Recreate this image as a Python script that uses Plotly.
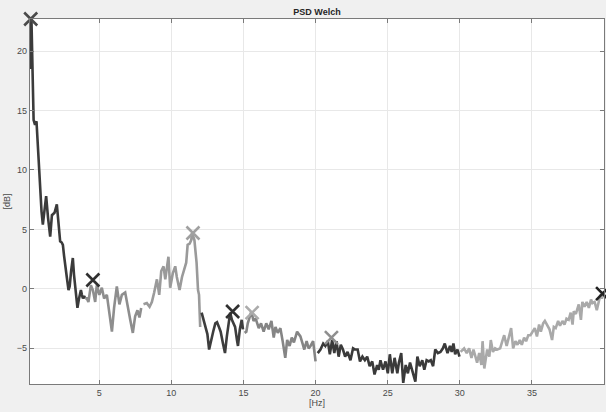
import plotly.graph_objects as go

# ---- data ----
f1 = [0.2, 0.3, 0.45, 0.55, 0.65, 0.72, 0.85, 1.0, 1.09, 1.2, 1.32, 1.45, 1.6, 1.72, 1.9, 2.06,
      2.15, 2.29, 2.4, 2.48, 2.56, 2.64, 2.75, 2.87, 2.95, 3.05, 3.17, 3.25, 3.33, 3.42, 3.49,
      3.6, 3.73, 3.8, 3.87, 3.95, 4.03]
p1 = [18.5, 22.7, 14.2, 13.8, 14.1, 12.5, 9.2, 6.5, 5.4, 6.8, 7.8, 6.0, 4.4, 6.2, 6.4, 7.1,
      6.0, 4.0, 3.9, 3.7, 2.8, 2.2, 1.0, -0.1, 0.2, 1.5, 2.6, 1.2, 0.1, -1.0, -1.6,
      -0.8, -0.1, -0.5, -0.8, -0.6, -0.8]

f2 = [4.03, 4.14, 4.25, 4.42, 4.56, 4.72, 4.83, 5.01, 5.18, 5.34, 5.53, 5.64, 5.76, 5.88, 6.03,
      6.22, 6.4, 6.57, 6.8, 6.96, 7.15, 7.33, 7.49, 7.65, 7.79, 7.91]
p2 = [-0.8, -0.8, -1.1, 0.3, -0.1, -1.1, 0.3, -0.5, 0.1, -0.8, -0.5, -1.5, -2.4, -3.6, -1.6,
      0.2, -1.3, -0.5, -0.3, -1.5, -2.6, -3.7, -2.3, -1.8, -2.4, -1.6]

f3 = [8.07, 8.3, 8.49, 8.65, 8.81, 9.0, 9.16, 9.3, 9.46, 9.58, 9.8, 9.92, 10.1, 10.27, 10.38,
      10.57, 10.74, 10.9, 11.03, 11.13, 11.27, 11.38, 11.44, 11.6, 11.75, 11.85, 11.92, 12.0]
p3 = [-1.3, -1.2, -1.5, -1.1, -0.3, 0.8, -0.5, 1.5, 1.9, 0.8, 2.7, 0.1, 1.3, 1.9, 1.0,
      -0.1, 1.0, 1.6, 2.2, 3.7, 3.8, 4.1, 4.7, 4.1, 2.2, -0.1, -0.5, -3.2]

f4 = [12.1, 12.22, 12.35, 12.5, 12.62, 12.75, 12.9, 13.05, 13.17, 13.3, 13.42, 13.58, 13.72,
      13.85, 13.95, 14.08, 14.2, 14.3, 14.42, 14.55, 14.62, 14.75, 14.88, 14.97]
p4 = [-2.0, -2.5, -3.0, -3.8, -5.1, -4.3, -3.6, -2.9, -2.8, -3.2, -3.6, -4.6, -5.4,
      -4.0, -3.0, -2.0, -2.6, -2.9, -3.2, -4.3, -4.8, -3.4, -2.6, -3.4]

f5 = [15.08, 15.2, 15.3, 15.43, 15.55, 15.7, 15.85, 16.06, 16.22, 16.4, 16.58, 16.75, 16.94,
      17.1, 17.22, 17.38, 17.56, 17.72, 17.9, 18.03, 18.2, 18.35, 18.5, 18.72, 18.95, 19.1,
      19.22, 19.38, 19.52, 19.65, 19.83, 20.0]
p5 = [-3.7, -3.6, -2.9, -2.3, -1.9, -2.7, -2.5, -3.3, -2.9, -3.6, -2.9, -3.4, -2.7,
      -4.1, -3.2, -3.7, -3.3, -4.4, -5.8, -4.3, -4.8, -4.1, -4.5, -3.6, -4.0, -4.6,
      -5.1, -4.4, -5.0, -4.8, -4.4, -6.1]

f6 = [20.15, 20.34, 20.53, 20.68, 20.85, 20.99, 21.15, 21.3, 21.45, 21.6, 21.75, 21.9, 22.05,
      22.22, 22.42, 22.6, 22.75, 22.92, 23.08, 23.25, 23.42, 23.58, 23.75, 23.93, 24.09, 24.27,
      24.38, 24.5, 24.68, 24.85, 25.01, 25.15, 25.32, 25.48, 25.67, 25.78, 25.94, 26.08, 26.25,
      26.4, 26.55, 26.76, 26.92, 27.06, 27.22, 27.4, 27.54, 27.7, 27.85, 27.99, 28.15, 28.3,
      28.48, 28.66, 28.83, 28.96, 29.15, 29.32, 29.44, 29.56, 29.68, 29.84, 29.98]
p6 = [-5.4, -5.1, -4.6, -4.8, -4.4, -5.5, -4.3, -5.4, -4.4, -5.7, -4.7, -5.1, -5.7,
      -5.3, -6.0, -5.0, -5.1, -5.1, -6.1, -5.7, -6.0, -5.7, -6.5, -6.1, -7.2, -6.4,
      -6.8, -6.0, -6.8, -6.1, -7.1, -5.5, -7.1, -5.8, -7.1, -6.2, -5.4, -7.9, -6.4,
      -7.1, -6.2, -7.2, -7.8, -5.7, -6.5, -6.0, -6.8, -6.0, -6.1, -6.0, -6.5, -5.1,
      -5.4, -5.3, -5.0, -4.6, -5.4, -4.8, -5.3, -4.6, -5.5, -5.1, -5.7]

f7 = [30.06, 30.3, 30.48, 30.65, 30.81, 30.95, 31.2, 31.35, 31.5, 31.58, 31.7, 31.9, 32.05,
      32.15, 32.3, 32.45, 32.6, 32.8, 32.95, 33.08, 33.25, 33.4, 33.56, 33.7, 33.86, 34.0,
      34.16, 34.3, 34.46, 34.6, 34.75, 34.9, 35.08, 35.2, 35.35, 35.5, 35.62, 35.78, 35.9,
      36.06, 36.22, 36.4, 36.52, 36.65, 36.82, 36.95, 37.12, 37.26, 37.4, 37.55, 37.69,
      37.82, 37.9, 38.05, 38.25, 38.4, 38.5, 38.65, 38.8, 38.95, 39.1, 39.2, 39.35, 39.5,
      39.65, 39.75, 39.85, 40.0]
p7 = [-5.3, -5.0, -5.4, -5.0, -5.8, -5.1, -6.2, -5.4, -6.4, -4.4, -6.7, -5.1, -5.7,
      -4.3, -5.3, -5.0, -5.1, -5.0, -4.4, -3.9, -4.8, -4.1, -3.3, -5.0, -4.4, -4.7,
      -4.3, -4.7, -4.1, -4.4, -3.9, -3.9, -3.6, -3.3, -4.0, -3.0, -3.6, -2.9, -2.7,
      -3.0, -3.4, -4.3, -3.2, -3.3, -2.7, -3.1, -2.7, -3.0, -2.5, -2.6, -2.0, -3.0,
      -1.9, -2.1, -1.3, -2.6, -1.1, -1.5, -1.1, -1.6, -0.9, -1.2, -1.1, -1.8, -0.9,
      -0.5, -0.8, -0.4]

seg_f = [f1, f2, f3, f4, f5, f6, f7]
seg_p = [p1, p2, p3, p4, p5, p6, p7]
seg_colors = ["#3b3b3b", "#8e8e8e", "#9a9a9a", "#3d3d3d", "#858585", "#3a3a3a", "#a9a9a9"]

peak_f = [0.25, 4.56, 11.5, 14.25, 15.6, 21.1, 39.9]
peak_p = [22.7, 0.75, 4.7, -1.9, -2.0, -4.1, -0.4]
peak_colors = ["#4a4a4a", "#303030", "#a0a0a0", "#303030", "#ababab", "#8f8f8f", "#222222"]

x_ticks = [5, 10, 15, 20, 25, 30, 35]
y_ticks = [-5, 0, 5, 10, 15, 20]

fig = go.Figure()
for fx, py, c in zip(seg_f, seg_p, seg_colors):
    fig.add_trace(go.Scatter(x=fx, y=py, mode="lines",
                             line=dict(color=c, width=2.6), showlegend=False,
                             hoverinfo="skip"))
for fx, py, c in zip(peak_f, peak_p, peak_colors):
    fig.add_trace(go.Scatter(x=[fx], y=[py], mode="markers",
                             marker=dict(symbol="x-thin", size=13,
                                         line=dict(color=c, width=2.6)),
                             showlegend=False, cliponaxis=False, hoverinfo="skip"))

axis_common = dict(showgrid=True, gridcolor="#e8e8e8", gridwidth=1,
                   showline=True, linecolor="#7a7a7a", linewidth=1.2, mirror="ticks",
                   ticks="inside", ticklen=4, tickcolor="#7a7a7a",
                   zeroline=False, automargin=False,
                   tickfont=dict(family="Liberation Sans", size=9, color="#4a4a4a"))

fig.update_layout(
    width=606, height=412,
    paper_bgcolor="#f0f0f0", plot_bgcolor="#ffffff",
    margin=dict(l=30, r=2, t=19, b=28, autoexpand=False),
    hovermode=False,
    title=dict(text="<b>PSD Welch</b>", x=0.5, xref="paper", y=0.98, yanchor="top",
               font=dict(family="Liberation Sans", size=9, color="#262626")),
    xaxis=dict(range=[0.2, 40], tickvals=x_ticks,
               title=dict(text="[Hz]", standoff=2,
                          font=dict(family="Liberation Sans", size=9, color="#4a4a4a")),
               **axis_common),
    yaxis=dict(range=[-8, 22.7], tickvals=y_ticks,
               title=dict(text="[dB]", standoff=4,
                          font=dict(family="Liberation Sans", size=9, color="#4a4a4a")),
               **axis_common),
)

fig.write_html("out.html", config={"displayModeBar": False},
               post_script="document.body.style.margin='0';document.body.style.overflow='hidden';")
